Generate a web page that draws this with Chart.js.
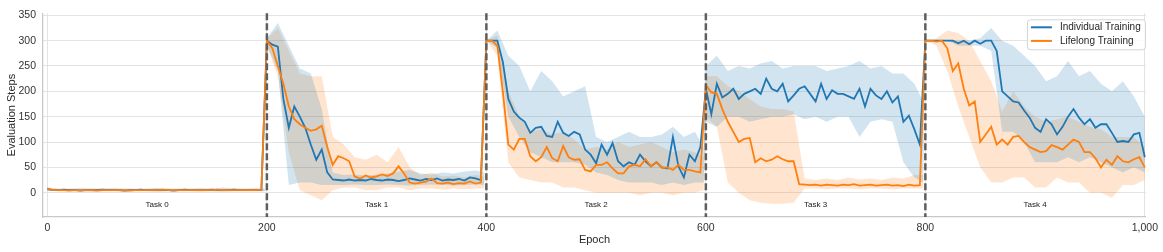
<!DOCTYPE html>
<html>
<head>
<meta charset="utf-8">
<script src="https://cdn.jsdelivr.net/npm/chart.js@4"></script>
<style>
  html, body { margin: 0; padding: 0; background: #fff; }
</style>
</head>
<body>
<canvas id="evalChart" width="1163" height="252"></canvas>
<script>
// one sample every 5 epochs, 0..1000
const epochs = Array.from({ length: 201 }, (_, i) => i * 5);

const individual = [
  7, 5, 5, 6, 5, 5, 4, 5, 5, 5, 6, 5, 5, 5, 4, 5, 5, 6, 5, 5,
  5, 5, 5, 4, 5, 6, 5, 5, 5, 5, 6, 5, 5, 5, 6, 5, 5, 5, 5, 6,
  300, 292, 288, 185, 128, 170, 150, 128, 95, 65, 85, 40, 26, 25, 24, 26, 24, 25, 24, 27,
  25, 24, 26, 25, 23, 25, 28, 26, 24, 27, 25, 28, 24, 26, 25, 27, 24, 30, 28, 25,
  300, 300, 300, 258, 185, 160, 148, 140, 118, 128, 130, 112, 110, 140, 118, 112, 120, 115, 85, 75,
  58, 95, 75, 98, 62, 52, 60, 55, 75, 62, 52, 60, 50, 48, 110, 52, 30, 75, 62, 90,
  205, 155, 215, 188, 195, 205, 185, 195, 200, 205, 195, 225, 205, 200, 215, 180, 192, 205, 210, 195,
  180, 215, 185, 202, 195, 195, 190, 185, 205, 170, 205, 192, 185, 200, 178, 190, 140, 152, 125, 95,
  300, 300, 300, 300, 300, 300, 295, 300, 293, 300, 294, 300, 300, 280, 200, 190, 180, 178, 162, 148,
  128, 120, 145, 135, 115, 130, 150, 165, 148, 135, 145, 128, 135, 135, 118, 100, 102, 100, 115, 118,
  70
];

const lifelong = [
  8, 5, 5, 5, 4, 5, 5, 5, 5, 4, 5, 5, 5, 5, 5, 4, 5, 5, 5, 5,
  5, 6, 5, 5, 5, 5, 5, 5, 5, 5, 5, 6, 5, 5, 5, 5, 5, 5, 5, 6,
  300, 285, 250, 215, 170, 145, 135, 128, 122, 125, 132, 90, 55, 72, 68, 62, 32, 28, 34, 30,
  32, 36, 33, 38, 52, 38, 20, 18, 20, 22, 28, 19, 18, 20, 17, 19, 18, 22, 18, 20,
  300, 300, 290, 200, 95, 85, 106, 106, 72, 62, 70, 90, 68, 62, 92, 70, 65, 66, 45, 42,
  55, 55, 60, 48, 38, 38, 52, 55, 52, 66, 52, 60, 49, 50, 45, 55, 45, 45, 42, 40,
  212, 198, 195, 165, 140, 120, 100, 106, 108, 60, 68, 62, 65, 72, 66, 62, 62, 17, 16, 15,
  16, 14, 16, 15, 14, 16, 15, 17, 14, 15, 16, 14, 15, 16, 14, 15, 13, 16, 14, 15,
  300, 300, 298, 300, 285, 240, 255, 205, 172, 180, 100, 115, 130, 95, 105, 95, 110, 112, 100, 90,
  85, 80, 82, 94, 90, 85, 95, 105, 100, 80, 80, 68, 50, 65, 55, 72, 62, 60, 66, 70,
  50
];

// spread bands, one sample every 10 epochs plus the last epoch of each task
const bandEpochs = [];
[0, 200, 400, 600].forEach(s => {
  for (let e = s; e < s + 200; e += 10) bandEpochs.push(e);
  bandEpochs.push(s + 198);
});
for (let e = 800; e <= 1000; e += 10) bandEpochs.push(e);

const individualLow = [
  4, 3, 3, 3, 2, 3, 3, 3, 3, 3, 2, 3, 3, 3, 3, 3, 2, 3, 3, 3, 3,
  290, 240, 15, 20, 20, 15, 15, 15, 16, 15, 15, 16, 15, 14, 15, 16, 15, 14, 15, 16, 15,
  300, 285, 150, 110, 80, 70, 60, 60, 60, 55, 40, 35, 25, 20, 20, 20, 15, 20, 15, 20, 20,
  140, 130, 150, 150, 140, 145, 150, 150, 155, 145, 150, 140, 150, 150, 110, 140, 145, 140, 60, 30, 20,
  300, 300, 300, 290, 290, 290, 280, 120, 120, 100, 60, 60, 60, 70, 60, 70, 60, 50, 40, 50, 40
];
const individualHigh = [
  10, 8, 8, 9, 8, 8, 9, 8, 8, 8, 9, 8, 8, 8, 9, 8, 10, 8, 8, 9, 8,
  305, 335, 290, 245, 235, 165, 40, 35, 36, 34, 36, 38, 42, 45, 38, 36, 40, 38, 42, 44, 40,
  300, 320, 270, 250, 200, 240, 220, 190, 200, 210, 110, 100, 110, 120, 110, 110, 115, 130, 110, 120, 90,
  250, 270, 240, 250, 245, 255, 260, 245, 250, 250, 250, 240, 245, 250, 260, 245, 250, 235, 235, 215, 180,
  300, 300, 300, 300, 300, 305, 325, 300, 290, 270, 250, 220, 230, 260, 230, 240, 215, 200, 220, 190, 150
];
const lifelongLow = [
  4, 3, 3, 3, 3, 3, 3, 2, 3, 3, 3, 3, 3, 3, 2, 3, 3, 3, 3, 3, 3,
  290, 230, 80, 5, -5, -15, 5, 10, 10, 5, 5, 10, 10, 5, 8, 8, 6, 8, 7, 8, 8,
  300, 270, 60, 30, 25, 20, 20, 10, 10, 5, 0, 0, 0, 0, -5, 0, 0, -5, 0, 0, 5,
  150, 130, 20, 0, -15, -20, -22, -22, -20, 8, 8, 7, 8, 8, 7, 8, 8, 7, 8, 8, 8,
  300, 290, 240, 170, 110, 50, 20, 20, 30, 30, 10, 10, 30, 20, 20, 0, 0, -10, 15, 15, 25
];
const lifelongHigh = [
  9, 7, 7, 7, 8, 7, 7, 7, 7, 7, 8, 7, 7, 7, 7, 7, 7, 8, 7, 7, 7,
  305, 325, 280, 235, 230, 230, 110, 95, 70, 65, 75, 60, 90, 50, 35, 40, 32, 34, 30, 35, 32,
  300, 310, 200, 150, 120, 125, 115, 120, 105, 85, 90, 85, 100, 90, 95, 100, 90, 80, 85, 80, 70,
  230, 230, 210, 200, 185, 170, 165, 165, 160, 28, 25, 28, 25, 30, 26, 28, 25, 30, 28, 35, 35,
  300, 305, 320, 315, 300, 260, 220, 160, 200, 170, 150, 140, 145, 150, 140, 130, 125, 110, 110, 110, 90
];

const seriesNames = ['Individual Training', 'Lifelong Training'];
const seriesColors = ['#1f77b4', '#ff7f0e'];
const bandColors = ['rgba(31, 119, 180, 0.2)', 'rgba(255, 127, 14, 0.2)'];

const taskBounds = [200, 400, 600, 800];
const taskNames = ['Task 0', 'Task 1', 'Task 2', 'Task 3', 'Task 4'];
const taskCenters = [100, 300, 500, 700, 900];
const taskLabelY = -24;

const xTicks = [0, 200, 400, 600, 800, 1000];
const yTicks = [0, 50, 100, 150, 200, 250, 300, 350];

const FONT = '"Liberation Sans", Arial, Helvetica, sans-serif';
Chart.defaults.font.family = FONT;

const toPoints = (xs, ys) => xs.map((x, i) => ({ x: x, y: ys[i] }));

const lineSet = (label, values, color, order) => ({
  label: label,
  data: toPoints(epochs, values),
  borderColor: color,
  borderWidth: 1.8,
  pointRadius: 0,
  tension: 0,
  fill: false,
  order: order,
});

const bandSet = (values, color, fillTarget) => ({
  label: 'band',
  data: toPoints(bandEpochs, values),
  borderWidth: 0,
  borderColor: 'transparent',
  backgroundColor: color,
  pointRadius: 0,
  tension: 0,
  fill: fillTarget,
  order: 5,
});

// dashed task boundaries and task names
const taskOverlay = {
  id: 'taskOverlay',
  afterDatasetsDraw(chart) {
    const { ctx, chartArea, scales: { x, y } } = chart;
    ctx.save();
    ctx.strokeStyle = '#5e5e5e';
    ctx.lineWidth = 2.5;
    ctx.setLineDash([7, 3]);
    taskBounds.forEach(b => {
      const px = x.getPixelForValue(b);
      ctx.beginPath();
      ctx.moveTo(px, chartArea.top);
      ctx.lineTo(px, chartArea.bottom);
      ctx.stroke();
    });
    ctx.setLineDash([]);
    ctx.fillStyle = '#1a1a1a';
    ctx.font = '8px ' + FONT;
    ctx.textAlign = 'center';
    ctx.textBaseline = 'middle';
    taskNames.forEach((t, i) => {
      ctx.fillText(t, x.getPixelForValue(taskCenters[i]), y.getPixelForValue(taskLabelY));
    });
    ctx.restore();
  }
};

// legend box in the upper right corner of the plot
const insideLegend = {
  id: 'insideLegend',
  afterDraw(chart) {
    const { ctx, chartArea } = chart;
    const w = 118, h = 30;
    const x0 = chartArea.right - w - 1;
    const y0 = chartArea.top + 6;
    ctx.save();
    ctx.fillStyle = 'rgba(255, 255, 255, 0.85)';
    ctx.strokeStyle = '#d4d4d4';
    ctx.lineWidth = 1;
    ctx.beginPath();
    ctx.roundRect(x0 + 0.5, y0 + 0.5, w, h, 3);
    ctx.fill();
    ctx.stroke();
    ctx.font = '10px ' + FONT;
    ctx.textAlign = 'left';
    ctx.textBaseline = 'middle';
    seriesNames.forEach((name, i) => {
      const ly = y0 + 8 + i * 13.6;
      ctx.strokeStyle = seriesColors[i];
      ctx.lineWidth = 2;
      ctx.beginPath();
      ctx.moveTo(x0 + 4, ly);
      ctx.lineTo(x0 + 25, ly);
      ctx.stroke();
      ctx.fillStyle = '#262626';
      ctx.fillText(name, x0 + 33, ly);
    });
    ctx.restore();
  }
};

const ctx = document.getElementById('evalChart').getContext('2d');
new Chart(ctx, {
  type: 'line',
  data: {
    datasets: [
      lineSet(seriesNames[0], individual, seriesColors[0], 2),
      lineSet(seriesNames[1], lifelong, seriesColors[1], 1),
      bandSet(individualLow, bandColors[0], false),
      bandSet(individualHigh, bandColors[0], 2),
      bandSet(lifelongLow, bandColors[1], false),
      bandSet(lifelongHigh, bandColors[1], 4),
    ],
  },
  options: {
    responsive: false,
    animation: false,
    layout: { padding: { top: 7, right: 17, left: 0, bottom: 0 } },
    plugins: {
      legend: { display: false },
      tooltip: { enabled: false },
    },
    scales: {
      x: {
        type: 'linear',
        min: -4,
        max: 1001,
        afterBuildTicks: axis => { axis.ticks = xTicks.map(v => ({ value: v })); },
        afterFit: axis => { axis.height = 35; },
        grid: { color: '#e3e3e3', lineWidth: 1, drawTicks: false },
        border: { display: true, color: '#c8c8c8', width: 1.25 },
        ticks: {
          color: '#333',
          font: { size: 10.5 },
          padding: 5,
          maxRotation: 0,
          autoSkip: false,
        },
        title: {
          display: true,
          text: 'Epoch',
          color: '#262626',
          font: { size: 11 },
          padding: { top: 0, bottom: 5 },
        },
      },
      y: {
        type: 'linear',
        min: -48,
        max: 354,
        afterBuildTicks: axis => { axis.ticks = yTicks.map(v => ({ value: v })); },
        afterFit: axis => { axis.width = 43; },
        grid: { color: '#e3e3e3', lineWidth: 1, drawTicks: false },
        border: { display: true, color: '#c8c8c8', width: 1.25 },
        ticks: {
          color: '#333',
          font: { size: 10.5 },
          padding: 7,
        },
        title: {
          display: true,
          text: 'Evaluation Steps',
          color: '#262626',
          font: { size: 11 },
          padding: { top: 5, bottom: 0 },
        },
      },
    },
  },
  plugins: [taskOverlay, insideLegend],
});
</script>
</body>
</html>
